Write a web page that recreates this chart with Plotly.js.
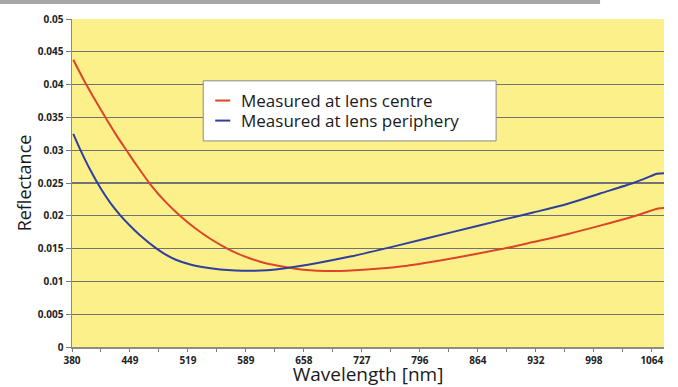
<!DOCTYPE html>
<html>
<head>
<meta charset="utf-8">
<script src="https://cdn.plot.ly/plotly-3.0.1.min.js"></script>
<style>
  html, body { margin: 0; padding: 0; background: #ffffff; }
  #chart { width: 678px; height: 387px; }
</style>
</head>
<body>
<div id="chart"></div>
<script>
// Tick labels of the wavelength (category-style) axis, equally spaced on screen
const tickLabels = [380, 449, 519, 589, 658, 727, 796, 864, 932, 998, 1064];

// Measured at lens centre
const centreWl = [381.5, 397, 407.7, 420.2, 432.7, 445.8, 455.4, 473.5, 492.8, 512.1, 527.8, 545.9, 566.4, 579.7, 594.1, 606, 617.9, 635.8, 650, 665.5, 683.3, 701.2, 740.4, 780.9, 819.8, 858.5, 901.9, 928.8, 967.6, 1005.2, 1042.7, 1071.2, 1078];
const centreR  = [0.0438, 0.0400, 0.0376, 0.0349, 0.0323, 0.0298, 0.0280, 0.0248, 0.0220, 0.0197, 0.0181, 0.0165, 0.0150, 0.0142, 0.0135, 0.0130, 0.0126, 0.0122, 0.0119, 0.0117, 0.0116, 0.0116, 0.0119, 0.0124, 0.0132, 0.0141, 0.0152, 0.0160, 0.0172, 0.0185, 0.0199, 0.0211, 0.0212];

// Measured at lens periphery
const periWl = [381.5, 391.1, 401.8, 413.7, 425.6, 437.5, 449.4, 461.4, 480.7, 491.6, 503.7, 521.8, 539.9, 558, 576.1, 594.1, 614.3, 635.8, 677.4, 713.1, 769, 835, 890.1, 928.8, 967.6, 1005.2, 1042.7, 1056.4, 1070, 1078];
const periR  = [0.0325, 0.02975, 0.02697, 0.02427, 0.02197, 0.02007, 0.01845, 0.0170, 0.01503, 0.01413, 0.01334, 0.01257, 0.01212, 0.01183, 0.01167, 0.01162, 0.01171, 0.0120, 0.01288, 0.01378, 0.01545, 0.01755, 0.0193, 0.0205, 0.0218, 0.0234, 0.0250, 0.0257, 0.0264, 0.0265];

const seriesNames = ["Measured at lens centre", "Measured at lens periphery"];
const seriesColors = ["#dc4527", "#2f3f9c"];

// Map a wavelength onto the evenly spaced tick positions (piecewise linear)
function wlToPos(wl) {
  const n = tickLabels.length;
  for (let i = 0; i < n - 1; i++) {
    if (wl <= tickLabels[i + 1]) {
      return i + (wl - tickLabels[i]) / (tickLabels[i + 1] - tickLabels[i]);
    }
  }
  const last = tickLabels[n - 1] - tickLabels[n - 2];
  return (n - 1) + (wl - tickLabels[n - 1]) / last;
}

const font = "'Open Sans', 'Noto Sans', sans-serif";

const traces = [
  { x: centreWl.map(wlToPos), y: centreR, customdata: centreWl, name: seriesNames[0],
    type: "scatter", mode: "lines", line: { color: seriesColors[0], width: 2, shape: "spline", smoothing: 0.8 } },
  { x: periWl.map(wlToPos), y: periR, customdata: periWl, name: seriesNames[1],
    type: "scatter", mode: "lines", line: { color: seriesColors[1], width: 2, shape: "spline", smoothing: 0.8 } }
];

// Manual legend (box, short dashes, labels)
const lgX0 = 0.2217, lgX1 = 0.7164, lgYT = 0.8115, lgYB = 0.6283;
const rowY = [0.7514, 0.6903];
const shapes = [
  // grey band at the very top of the picture
  { type: "rect", xref: "paper", yref: "paper", x0: -0.1216, x1: 0.892, y0: 1.0457, y1: 1.058,
    fillcolor: "#a6a6a6", line: { width: 0 } },
  { type: "rect", xref: "paper", yref: "paper", x0: lgX0, x1: lgX1, y0: lgYB, y1: lgYT,
    fillcolor: "#ffffff", line: { color: "#8a8a8a", width: 1 } }
];
const annotations = [];
seriesNames.forEach((nm, i) => {
  shapes.push({ type: "line", xref: "paper", yref: "paper", x0: 0.2419, x1: 0.2673, y0: rowY[i], y1: rowY[i],
    line: { color: seriesColors[i], width: 2 } });
  annotations.push({ xref: "paper", yref: "paper", x: 0.2825, y: rowY[i], xanchor: "left", yanchor: "middle",
    text: nm, showarrow: false, font: { family: font, size: 17, color: "#1a1a1a" } });
});

const layout = {
  width: 678, height: 387,
  margin: { l: 72, r: 14, t: 19, b: 40 },
  paper_bgcolor: "#ffffff",
  plot_bgcolor: "#fcf08b",
  showlegend: false,
  xaxis: {
    range: [0, 10.21],
    tickvals: tickLabels.map((_, i) => i),
    ticktext: tickLabels.map(String),
    ticks: "outside", ticklen: 3, tickcolor: "#7a7a7a", tickwidth: 1,
    minor: { dtick: 0.5, tick0: 0, ticks: "outside", ticklen: 3, tickcolor: "#7a7a7a", showgrid: false },
    showgrid: false, zeroline: false,
    showline: true, linecolor: "#8a8a8a", linewidth: 1.5,
    tickfont: { family: font, size: 10, color: "#222222", weight: "bold" },
    title: { text: "Wavelength [nm]", font: { family: font, size: 19, color: "#1a1a1a" }, standoff: 3 }
  },
  yaxis: {
    range: [0, 0.05], dtick: 0.005, tick0: 0,
    ticks: "outside", ticklen: 5, tickcolor: "#7a7a7a",
    showgrid: true, gridcolor: "#727272", gridwidth: 1.3,
    zeroline: false,
    showline: true, linecolor: "#8a8a8a", linewidth: 1.5,
    tickfont: { family: font, size: 10, color: "#222222", weight: "bold" },
    title: { text: "Reflectance", font: { family: font, size: 18, color: "#1a1a1a" }, standoff: 1 }
  },
  shapes: shapes,
  annotations: annotations
};

Plotly.newPlot("chart", traces, layout, { displayModeBar: false, staticPlot: true });
</script>
</body>
</html>
